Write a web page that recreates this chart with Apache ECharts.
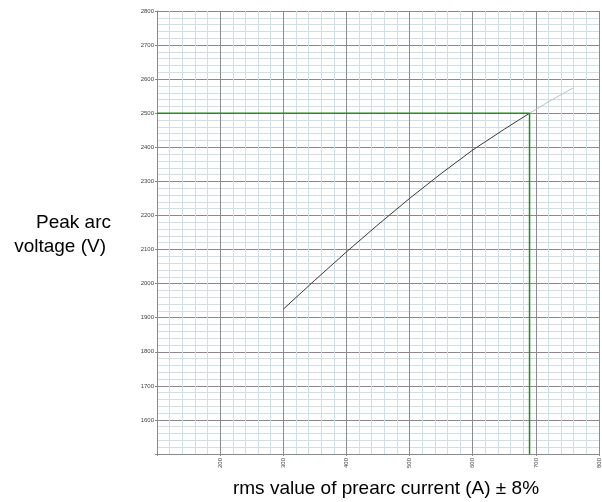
<!DOCTYPE html>
<html>
<head>
<meta charset="utf-8">
<script src="https://cdn.jsdelivr.net/npm/echarts@6/dist/echarts.min.js"></script>
<style>
html,body{margin:0;padding:0;background:#fff;}
#chart{width:602px;height:502px;}
</style>
</head>
<body>
<div id="chart"></div>
<script>
// Data
var curveX = [300, 350, 400, 450, 500, 550, 600, 650, 690];
var curveY = [1925, 2010, 2093, 2173, 2250, 2323, 2392, 2453, 2500];
var extX = [690, 725, 760];
var extY = [2500, 2539, 2575];
var markX = 690;
var markY = 2500;
var xTickLabels = ['200', '300', '400', '500', '600', '700', '800'];
var yTickLabels = ['1600', '1700', '1800', '1900', '2000', '2100', '2200', '2300', '2400', '2500', '2600', '2700', '2800'];
var yTitle = ['Peak arc', 'voltage (V)'];
var xTitle = 'rms value of prearc current (A) \u00b1 8%';

function zip(a, b) { return a.map(function (v, i) { return [v, b[i]]; }); }

var chart = echarts.init(document.getElementById('chart'), null, { renderer: 'canvas' });
var font = 'Liberation Sans, Arial, sans-serif';
chart.setOption({
  animation: false,
  backgroundColor: '#ffffff',
  grid: { left: 157, right: 3, top: 11, bottom: 48, containLabel: false },
  xAxis: {
    type: 'value', min: 100, max: 800, interval: 100,
    axisLine: { show: true, lineStyle: { color: '#8a8a8a', width: 1 } },
    axisTick: { show: true, length: 2, lineStyle: { color: '#8a8a8a' } },
    axisLabel: {
      rotate: 90, fontSize: 6, color: '#444', fontFamily: font, margin: 4,
      formatter: function (v) { var s = String(v); return xTickLabels.indexOf(s) >= 0 ? s : ''; }
    },
    splitLine: { show: true, lineStyle: { color: '#8c8c8c', width: 1 } },
    minorTick: { show: false, splitNumber: 5 },
    minorSplitLine: { show: true, lineStyle: { color: '#cfdfe3', width: 1 } }
  },
  yAxis: {
    type: 'value', min: 1500, max: 2800, interval: 100,
    axisLine: { show: true, lineStyle: { color: '#8a8a8a', width: 1 } },
    axisTick: { show: true, length: 2, lineStyle: { color: '#8a8a8a' } },
    axisLabel: {
      fontSize: 6, color: '#444', fontFamily: font, margin: 3,
      formatter: function (v) { var s = String(v); return yTickLabels.indexOf(s) >= 0 ? s : ''; }
    },
    splitLine: { show: true, lineStyle: { color: '#8e8690', width: 1 } },
    minorTick: { show: false, splitNumber: 5 },
    minorSplitLine: { show: true, lineStyle: { color: '#cfdfe3', width: 1 } }
  },
  series: [
    {
      type: 'line', data: zip(curveX, curveY), smooth: false, symbol: 'none',
      lineStyle: { color: '#3a3a3a', width: 1 }, z: 3
    },
    {
      type: 'line', data: zip(extX, extY), smooth: false, symbol: 'none',
      lineStyle: { color: '#c0c0c0', width: 1 }, z: 2
    },
    {
      type: 'line', data: [[100, markY], [markX, markY]], symbol: 'none',
      lineStyle: { color: '#1e8e1e', width: 1.5 }, z: 4
    },
    {
      type: 'line', data: [[markX, markY], [markX, 1500]], symbol: 'none',
      lineStyle: { color: '#1e8e1e', width: 1.5 }, z: 4
    }
  ],
  graphic: [
    { type: 'text', style: { x: 111, y: 222.5, text: yTitle[0], align: 'right', verticalAlign: 'middle', font: '19px ' + font, fill: '#000' } },
    { type: 'text', style: { x: 106, y: 246.5, text: yTitle[1], align: 'right', verticalAlign: 'middle', font: '19px ' + font, fill: '#000' } },
    { type: 'text', style: { x: 386, y: 488.5, text: xTitle, align: 'center', verticalAlign: 'middle', font: '19px ' + font, fill: '#000' } }
  ]
});
</script>
</body>
</html>
